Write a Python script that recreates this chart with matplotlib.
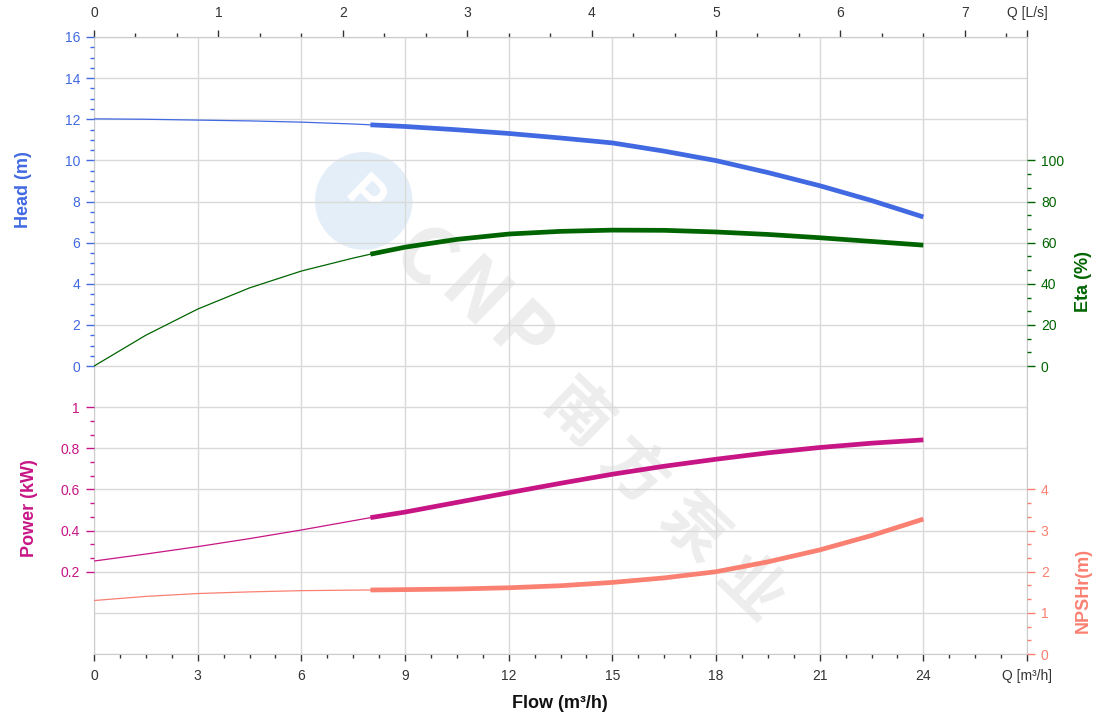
import numpy as np
import matplotlib
matplotlib.use("Agg")
import matplotlib.pyplot as plt
from matplotlib.ticker import FixedLocator

plt.rcParams['font.family'] = ['Liberation Sans', 'DejaVu Sans']

# values
flow = np.array([0, 1.5, 3, 4.5, 6, 7.5, 8, 9, 10.5, 12, 13.5, 15, 16.5, 18, 19.5, 21, 22.5, 24])
head = np.array([12.02, 12.0, 11.96, 11.92, 11.86, 11.77, 11.73, 11.65, 11.49, 11.31,
                 11.09, 10.85, 10.45, 9.99, 9.41, 8.77, 8.05, 7.25])
eta = np.array([0, 15.0, 27.7, 38.0, 46.2, 52.5, 54.4, 57.8, 61.6, 64.2,
                65.5, 66.1, 66.0, 65.2, 64.0, 62.4, 60.6, 58.8])
power = np.array([0.252, 0.286, 0.322, 0.361, 0.403, 0.448, 0.463, 0.49, 0.537, 0.584,
                  0.63, 0.674, 0.713, 0.747, 0.778, 0.804, 0.825, 0.841])
npsh = np.array([1.30, 1.40, 1.47, 1.51, 1.54, 1.553, 1.556, 1.565, 1.58, 1.61,
                 1.66, 1.74, 1.85, 2.0, 2.24, 2.53, 2.88, 3.28])
range_start = 8  # thick part of the curves starts here

flow_ticks = np.arange(0, 28, 3)
flow_labels = [str(v) for v in flow_ticks[:-1]] + ['Q [m³/h]']
ls_ticks = [0, 1, 2, 3, 4, 5, 6, 7, 7.5]
ls_labels = ['0', '1', '2', '3', '4', '5', '6', '7', 'Q [L/s]']
head_ticks = np.arange(0, 17, 2)
power_ticks = [0.2, 0.4, 0.6, 0.8, 1.0]
power_labels = ['0.2', '0.4', '0.6', '0.8', '1']
eta_ticks = np.arange(0, 101, 20)
npsh_ticks = [0, 1, 2, 3, 4]

c_head = '#4169E1'
c_eta = '#006400'
c_power = '#C71585'
c_npsh = '#FA8072'
c_grid = '#d9d9d9'
c_text = '#333333'

W, H = 1120, 718
fig = plt.figure(figsize=(W / 100, H / 100), dpi=100)
L, R, T, B = 94, 1027, 37, 654
ax = fig.add_axes([L / W, 1 - B / H, (R - L) / W, (B - T) / H])
ax.set_xlim(0, 27)
ax.set_ylim(0, 15)
ax.set_axisbelow(True)
ax.set_yticks(range(16))
ax.tick_params(axis='y', length=0, labelleft=False)
ax.set_xticks(flow_ticks)
ax.set_xticklabels(flow_labels)
ax.xaxis.set_minor_locator(FixedLocator(np.arange(0, 27.01, 0.75)))
ax.tick_params(axis='x', which='major', direction='out', length=5, width=1,
               color=c_text, labelsize=10, labelcolor=c_text, pad=6)
ax.tick_params(axis='x', which='minor', direction='out', length=3, width=1, color=c_text)
ax.grid(True, which='major', color=c_grid, lw=1)
for s in ax.spines.values():
    s.set_color('#cccccc')

top = ax.secondary_xaxis('top', functions=(lambda q: q / 3.6, lambda l: l * 3.6))
top.set_xticks(ls_ticks)
top.set_xticklabels(ls_labels)
top.xaxis.set_minor_locator(FixedLocator(np.arange(0, 7.4, 1 / 3)))
top.tick_params(which='major', direction='out', length=5, width=1, color=c_text,
                labelsize=10, labelcolor=c_text, pad=7)
top.tick_params(which='minor', direction='out', length=3, width=1, color=c_text)
top.spines['top'].set_color('#cccccc')


def side_axis(ylim, ticks, minor, color, left, labels=None):
    a = ax.twinx()
    a.set_ylim(*ylim)
    if left:
        a.yaxis.tick_left()
    a.set_yticks(ticks)
    if labels is not None:
        a.set_yticklabels(labels)
    a.yaxis.set_minor_locator(FixedLocator(minor))
    a.tick_params(which='major', length=6, width=1, color=color, labelsize=10,
                  labelcolor=color, pad=4)
    a.tick_params(which='minor', length=3, width=1, color=color)
    for s in a.spines.values():
        s.set_visible(False)
    return a


axh = side_axis((-14, 16), head_ticks, np.arange(0, 16.01, 0.5), c_head, True)
axp = side_axis((-0.2, 2.8), power_ticks, np.linspace(0.2, 1.0, 13), c_power, True, power_labels)
axe = side_axis((-140, 160), eta_ticks, np.linspace(0, 100, 16), c_eta, False)
axn = side_axis((0, 15), npsh_ticks, np.linspace(0, 4, 13), c_npsh, False)

thin = flow <= range_start
thick = flow >= range_start
for a, y, c in [(axh, head, c_head), (axe, eta, c_eta), (axp, power, c_power), (axn, npsh, c_npsh)]:
    a.plot(flow[thin], y[thin], color=c, lw=0.9)
    a.plot(flow[thick], y[thick], color=c, lw=3.4, solid_capstyle='butt', solid_joinstyle='round')

# axis titles
fig.text(24 / W, 1 - 190 / H, 'Head (m)', rotation=90, ha='center', va='center',
         fontsize=13, fontweight='bold', color=c_head)
fig.text(29 / W, 1 - 508 / H, 'Power (kW)', rotation=90, ha='center', va='center',
         fontsize=13, fontweight='bold', color=c_power)
fig.text(1083 / W, 1 - 281 / H, 'Eta (%)', rotation=90, ha='center', va='center',
         fontsize=13, fontweight='bold', color=c_eta)
fig.text(1083 / W, 1 - 590 / H, 'NPSHr(m)', rotation=90, ha='center', va='center',
         fontsize=13, fontweight='bold', color=c_npsh)
fig.text(560 / W, 1 - 703 / H, 'Flow (m³/h)', ha='center', va='center',
         fontsize=13, fontweight='bold', color='#111111')


# watermark
def px(x, y):
    return (x - L) / (R - L), (B - y) / (B - T)


lx, ly = px(364, 198)
ax.text(lx, ly, '●', transform=ax.transAxes, fontsize=92, color='#e4eef8',
        ha='center', va='center', zorder=0, family='DejaVu Sans')
ax.text(lx, ly, 'P', transform=ax.transAxes, fontsize=36, color='white', fontweight='bold',
        ha='center', va='center', rotation=-44, zorder=0)
marks = [('C', 422, 260, 56), ('N', 473, 298, 56), ('P', 519, 340, 56),
         ('南', 577, 415, 46), ('方', 633, 473, 46), ('泵', 693, 530, 46), ('业', 750, 590, 46)]
for ch, cx, cy, fs in marks:
    tx, ty = px(cx, cy)
    ax.text(tx, ty, ch, transform=ax.transAxes, fontsize=fs, color='#ededed',
            fontweight='black', ha='center', va='center', rotation=-44, zorder=0,
            family=['Noto Sans CJK SC', 'DejaVu Sans'])

fig.savefig('out.png', dpi=100)
